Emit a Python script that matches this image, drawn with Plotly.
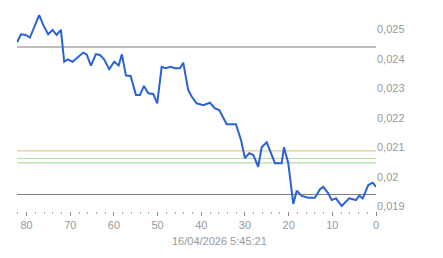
import plotly.graph_objects as go

# minutes ago (x) and price values (y)
minutes_ago = [82.16, 81.31, 80.23, 79.25, 77.12, 76.2, 75.06, 74.05, 73.13, 72.15,
               71.39, 70.61, 69.47, 67.04, 66.26, 65.28, 64.13, 63.22, 62.3, 61.08,
               59.94, 58.93, 58.18, 57.26, 56.18, 54.97, 54.05, 53.14, 52.15, 51.01,
               50.09, 49.08, 48.17, 47.02, 46.04, 44.89, 44.14, 42.99, 42.21, 41.07,
               39.56, 38.02, 36.88, 35.89, 34.2, 32.07, 30.92, 30.0, 29.02, 28.1,
               26.96, 26.18, 25.03, 23.13, 21.6, 21.07, 20.09, 18.94, 18.16, 17.02,
               15.51, 13.97, 12.83, 12.07, 10.93, 10.15, 9.16, 7.86, 6.12, 4.58,
               3.82, 3.05, 1.76, 0.76, 0.0]
prices = [0.02456, 0.02483, 0.02481, 0.02472, 0.02548, 0.02515, 0.02483, 0.02498, 0.02481, 0.02498,
          0.0239, 0.02398, 0.0239, 0.02421, 0.02415, 0.02377, 0.02416, 0.02413, 0.02399, 0.02365,
          0.0239, 0.02377, 0.02415, 0.02343, 0.02342, 0.02277, 0.02277, 0.02308, 0.02283, 0.02281,
          0.02249, 0.02373, 0.02368, 0.02373, 0.02368, 0.02368, 0.02387, 0.02294, 0.02272, 0.02249,
          0.02243, 0.02251, 0.02232, 0.02226, 0.02178, 0.02178, 0.02125, 0.02063, 0.0208, 0.02074,
          0.02034, 0.021, 0.02117, 0.02046, 0.02046, 0.021, 0.02046, 0.01908, 0.01953, 0.01935,
          0.01929, 0.01929, 0.01958, 0.01966, 0.01944, 0.01921, 0.01927, 0.01901, 0.01927, 0.01921,
          0.01936, 0.01927, 0.01972, 0.0198, 0.01966]

ref_levels = [0.0244, 0.02088, 0.02062, 0.02047, 0.0194]
ref_colors = ["#808080", "#e3cf8a", "#b4e0a8", "#b4e0a8", "#808080"]

y_tick_vals = [0.025, 0.024, 0.023, 0.022, 0.021, 0.02, 0.019]
y_tick_text = ["0,025", "0,024", "0,023", "0,022", "0,021", "0,02", "0,019"]
x_tick_vals = [80, 70, 60, 50, 40, 30, 20, 10, 0]
timestamp = "16/04/2026 5:45:21"

fig = go.Figure()
for lvl, col in zip(ref_levels, ref_colors):
    fig.add_shape(type="line", xref="paper", x0=0, x1=1, yref="y", y0=lvl, y1=lvl,
                  line=dict(color=col, width=1.2), layer="below")

fig.add_trace(go.Scatter(x=minutes_ago, y=prices, mode="lines",
                         line=dict(color="#2a62d6", width=2), hoverinfo="skip"))

fig.add_annotation(text=timestamp, xref="paper", yref="paper", x=0.564, y=-0.146,
                   showarrow=False, xanchor="center", yanchor="middle",
                   font=dict(family="Arial", size=11, color="#999999"))

fig.update_layout(
    width=443, height=258,
    margin=dict(l=17, r=67, t=5, b=47),
    paper_bgcolor="white", plot_bgcolor="white",
    showlegend=False,
    font=dict(family="Arial", size=11, color="#999999"),
    xaxis=dict(range=[82.2, 0], showgrid=False, zeroline=False, showline=False,
               tickvals=x_tick_vals, ticks="outside", ticklen=4, tickcolor="#888888",
               tickwidth=1,
               minor=dict(dtick=2, tick0=0, ticks="outside", ticklen=2, tickcolor="#aaaaaa", showgrid=False),
               tickfont=dict(size=11, color="#999999")),
    yaxis=dict(range=[0.01884, 0.025824], side="right", showgrid=False, zeroline=False,
               showline=False, tickvals=y_tick_vals, ticktext=y_tick_text, ticks="",
               tickfont=dict(size=11, color="#999999")),
)

fig.write_html("out.html")
